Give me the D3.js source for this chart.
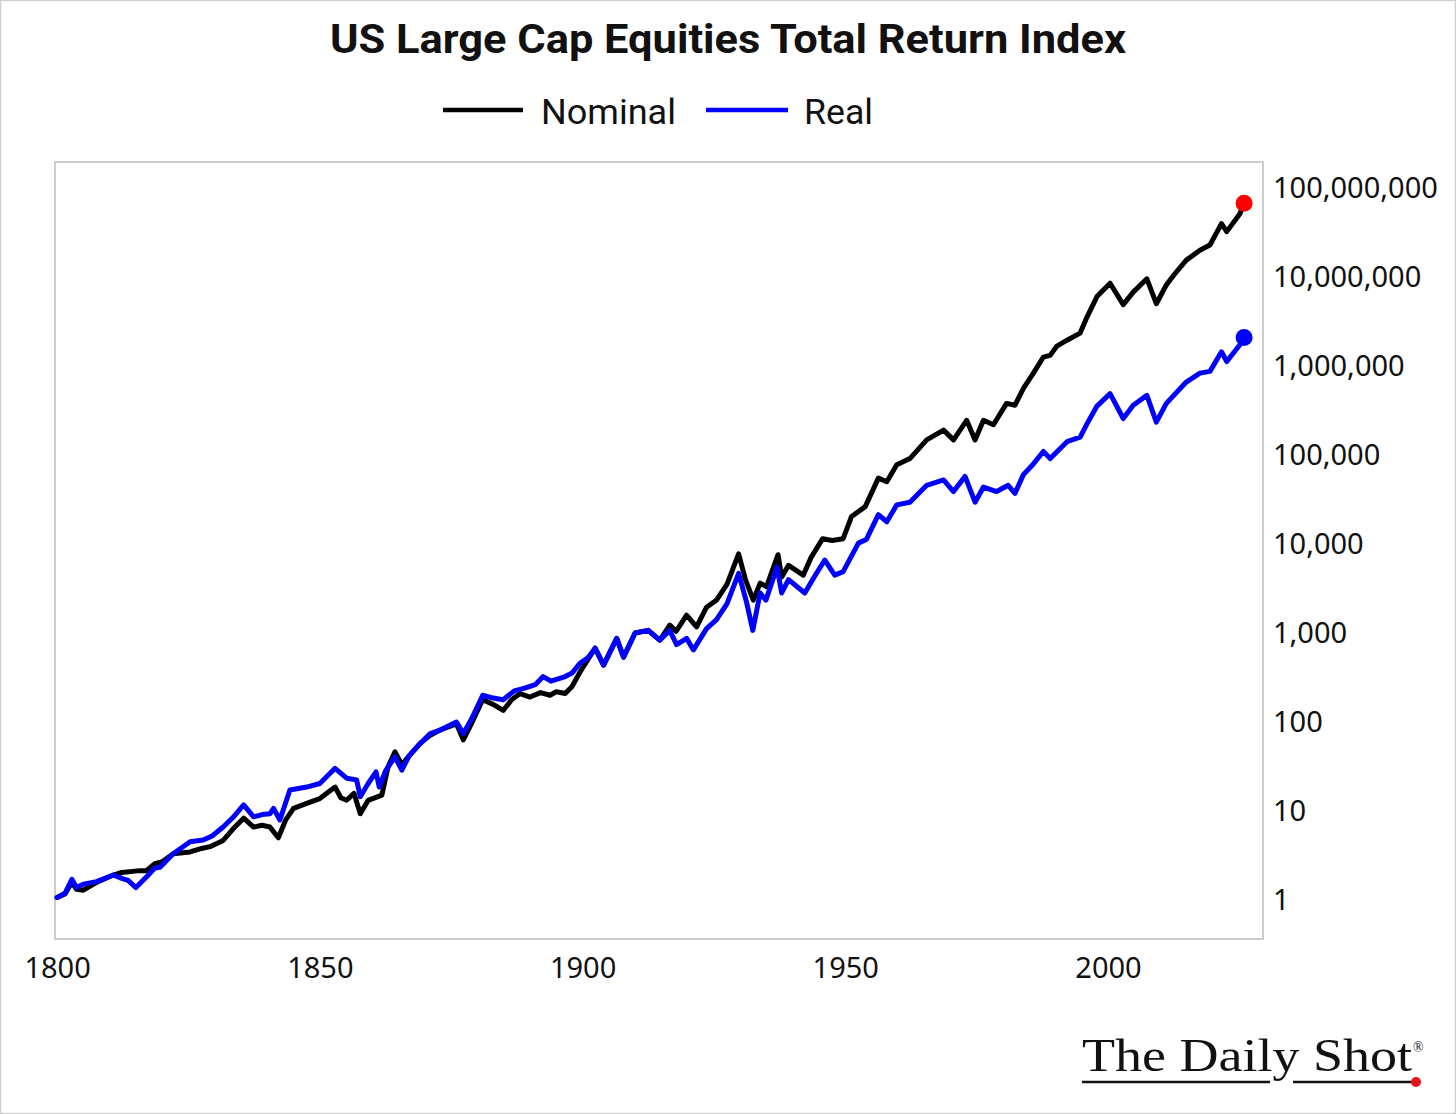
<!DOCTYPE html>
<html>
<head>
<meta charset="utf-8">
<script src="https://cdn.jsdelivr.net/npm/d3@7/dist/d3.min.js"></script>
<style>
  html, body { margin: 0; padding: 0; background: #fff; }
  svg { display: block; }
</style>
</head>
<body>
<svg id="chart" width="1456" height="1114"></svg>
<script>
const title = "US Large Cap Equities Total Return Index";
const seriesNames = ["Nominal", "Real"];
const seriesColors = ["#000000", "#0000ff"];
const endDotColors = ["#ff0000", "#0000ff"];

const xTicks = [1800, 1850, 1900, 1950, 2000];
const yTicks = [1, 10, 100, 1000, 10000, 100000, 1000000, 10000000, 100000000];

const nominalYears = [1800.0, 1801.5, 1802.8, 1803.7, 1805.0, 1807.5, 1810.7, 1812.3, 1815.8, 1817.0,
  1818.6, 1820.0, 1822.1, 1825.3, 1827.5, 1829.1, 1831.6, 1833.5, 1835.5, 1837.4,
  1839.0, 1840.5, 1842.1, 1843.5, 1845.0, 1847.5, 1850.0, 1852.9, 1854.0, 1855.1,
  1856.5, 1857.7, 1859.2, 1861.8, 1863.0, 1864.3, 1865.6, 1867.0, 1869.1, 1871.0,
  1872.9, 1876.0, 1877.3, 1879.0, 1881.0, 1883.0, 1884.9, 1886.5, 1888.1, 1890.0,
  1892.0, 1893.8, 1895.0, 1896.7, 1898.0, 1899.5, 1901.0, 1902.4, 1904.0, 1906.5,
  1907.8, 1910.0, 1912.5, 1914.7, 1916.6, 1917.8, 1919.8, 1921.7, 1923.6, 1925.5,
  1927.5, 1929.7, 1931.0, 1932.5, 1933.8, 1935.0, 1937.2, 1937.9, 1939.2, 1942.0,
  1943.5, 1945.7, 1947.5, 1949.6, 1951.2, 1953.8, 1956.3, 1957.9, 1959.8, 1962.3,
  1965.5, 1968.7, 1970.6, 1973.1, 1974.7, 1976.3, 1978.2, 1980.7, 1982.3, 1983.9,
  1985.8, 1987.7, 1989.0, 1990.2, 1992.2, 1994.7, 1996.0, 1997.9, 2000.4, 2002.9,
  2004.8, 2007.4, 2009.2, 2011.1, 2012.5, 2014.9, 2017.5, 2019.4, 2021.6, 2022.6,
  2025.1, 2025.9];
const nominalValues = [1.07, 1.17, 1.58, 1.32, 1.29, 1.58, 1.91, 2.04, 2.14, 2.14,
  2.57, 2.69, 3.31, 3.47, 3.80, 3.98, 4.68, 6.31, 8.32, 6.61,
  6.92, 6.61, 5.01, 7.94, 10.7, 12.2, 13.8, 18.6, 14.1, 13.2,
  15.8, 9.33, 13.2, 15.1, 31.6, 46.2, 33.1, 41.7, 57.5, 70.8,
  81.3, 95.5, 63.1, 100, 178, 158, 135, 178, 209, 191,
  214, 200, 219, 209, 251, 363, 501, 676, 437, 871,
  537, 1000, 1072, 832, 1230, 1047, 1585, 1175, 1950, 2344,
  3548, 7762, 3981, 2344, 3631, 3311, 7586, 4266, 5754, 4467,
  7079, 11482, 10965, 11482, 20417, 26303, 54954, 50119, 77625, 91201,
  147911, 190546, 147911, 245471, 147911, 245471, 218776, 380189, 363078, 562341,
  831764, 1258925, 1318257, 1659587, 1949845, 2344229, 3548134, 6025596, 8511380, 4897788,
  6760830, 9549926, 5011872, 8128305, 10471285, 15488166, 19952623, 22908677, 39810717, 32359366,
  51286138, 67600000];

const realYears = [1800.0, 1801.5, 1802.8, 1803.7, 1805.0, 1807.5, 1810.7, 1812.3, 1813.5, 1815.0,
  1817.0, 1818.6, 1819.6, 1822.1, 1825.3, 1827.8, 1829.5, 1831.6, 1833.5, 1835.5,
  1837.4, 1839.0, 1840.5, 1841.2, 1842.4, 1844.3, 1847.5, 1850.0, 1852.9, 1855.1,
  1857.0, 1857.7, 1859.2, 1860.7, 1861.3, 1862.5, 1864.3, 1865.6, 1867.0, 1869.1,
  1871.0, 1872.9, 1876.0, 1877.3, 1879.0, 1881.0, 1883.0, 1884.9, 1887.0, 1889.0,
  1891.0, 1892.5, 1894.0, 1896.7, 1898.0, 1899.5, 1901.0, 1902.4, 1904.0, 1906.5,
  1907.8, 1910.0, 1912.5, 1914.7, 1916.6, 1917.9, 1919.8, 1921.1, 1923.6, 1925.5,
  1927.5, 1929.7, 1931.2, 1932.4, 1933.8, 1934.9, 1937.0, 1937.9, 1939.2, 1942.3,
  1944.0, 1946.1, 1948.0, 1949.6, 1952.5, 1954.0, 1956.3, 1957.9, 1959.8, 1962.3,
  1965.5, 1968.7, 1970.6, 1972.8, 1974.7, 1976.3, 1978.8, 1981.0, 1982.3, 1983.9,
  1985.8, 1987.7, 1989.0, 1992.2, 1994.7, 1996.0, 1997.9, 2000.4, 2002.9, 2004.8,
  2007.4, 2009.2, 2011.1, 2014.9, 2017.5, 2019.4, 2021.6, 2022.6, 2025.1, 2025.9];
const realValues = [1.07, 1.19, 1.71, 1.38, 1.51, 1.61, 1.91, 1.75, 1.66, 1.38,
  1.82, 2.29, 2.34, 3.31, 4.52, 4.72, 5.25, 6.61, 8.51, 11.7,
  8.61, 9.12, 9.33, 10.7, 7.94, 17.2, 18.6, 20.4, 30.2, 23.4,
  22.4, 14.5, 20.4, 27.5, 18.6, 28.2, 40.7, 28.8, 41.7, 57.5,
  74.1, 81.3, 100, 74.1, 112, 200, 186, 178, 224, 240,
  263, 324, 288, 324, 355, 457, 525, 676, 437, 871,
  537, 1000, 1072, 832, 1072, 741, 871, 646, 1122, 1413,
  2138, 4677, 2239, 1072, 2818, 2344, 5495, 2818, 3981, 2818,
  4169, 6607, 4467, 4898, 10233, 11220, 21380, 17783, 27542, 29512,
  45709, 52481, 38905, 57544, 29512, 43652, 38905, 45709, 37154, 60256,
  79433, 109648, 91201, 141254, 158489, 223872, 354813, 489779, 257040, 363078,
  467735, 234423, 380189, 660693, 831764, 870964, 1445440, 1122018, 1737801, 2089296];

const series = [
  { name: seriesNames[0], color: seriesColors[0], dot: endDotColors[0],
    data: nominalYears.map((y, i) => ({ year: y, value: nominalValues[i] })) },
  { name: seriesNames[1], color: seriesColors[1], dot: endDotColors[1],
    data: realYears.map((y, i) => ({ year: y, value: realValues[i] })) }
];

const svg = d3.select("#chart");
const W = 1456, H = 1114;
const plot = { left: 55, top: 162, right: 1263, bottom: 939 };

// outer border
svg.append("rect").attr("x", 0.5).attr("y", 0.5).attr("width", W - 1).attr("height", H - 1)
  .attr("fill", "#fff").attr("stroke", "#cfcfcf").attr("stroke-width", 1.5);

const x = d3.scaleLinear().domain([1799.6, 2029.5]).range([plot.left, plot.right]);
const y = d3.scaleLog().domain([0.365, 1.96e8]).range([plot.bottom, plot.top]);

// title
svg.append("text")
  .attr("x", 728).attr("y", 53)
  .attr("text-anchor", "middle")
  .attr("font-family", "Roboto, 'Noto Sans', sans-serif")
  .attr("font-weight", 700)
  .attr("font-size", 41)
  .attr("textLength", 796)
  .attr("lengthAdjust", "spacingAndGlyphs")
  .attr("fill", "#111")
  .text(title);

// legend
const legendItems = [
  { x1: 443, x2: 523, tx: 541, tw: 135 },
  { x1: 706, x2: 788, tx: 804, tw: 69 }
];
series.forEach((s, i) => {
  const L = legendItems[i];
  svg.append("line").attr("x1", L.x1).attr("x2", L.x2).attr("y1", 110).attr("y2", 110)
    .attr("stroke", s.color).attr("stroke-width", 4.5);
  svg.append("text").attr("x", L.tx).attr("y", 124)
    .attr("font-family", "Roboto, 'Noto Sans', sans-serif")
    .attr("font-size", 35)
    .attr("textLength", L.tw)
    .attr("lengthAdjust", "spacingAndGlyphs")
    .attr("fill", "#111")
    .text(s.name);
});

// plot frame
svg.append("rect")
  .attr("x", plot.left).attr("y", plot.top)
  .attr("width", plot.right - plot.left).attr("height", plot.bottom - plot.top)
  .attr("fill", "none").attr("stroke", "#cccccc").attr("stroke-width", 2);

// lines
const line = d3.line().x(d => x(d.year)).y(d => y(d.value));
series.forEach(s => {
  svg.append("path").datum(s.data)
    .attr("d", line)
    .attr("fill", "none")
    .attr("stroke", s.color)
    .attr("stroke-width", 5)
    .attr("stroke-linejoin", "round")
    .attr("stroke-linecap", "round");
});
series.forEach(s => {
  const last = s.data[s.data.length - 1];
  svg.append("circle").attr("cx", x(last.year)).attr("cy", y(last.value)).attr("r", 8.5)
    .attr("fill", s.dot);
});

// axes
const fmt = d3.format(",");
const yAxis = svg.append("g").attr("transform", `translate(${plot.right},0)`)
  .call(d3.axisRight(y).tickValues(yTicks).tickFormat(fmt).tickSize(0).tickPadding(10));
yAxis.select(".domain").remove();
yAxis.selectAll("text")
  .attr("font-family", "'Noto Sans', 'Open Sans', sans-serif")
  .attr("font-size", 29)
  .attr("fill", "#111");

const xAxis = svg.append("g").attr("transform", `translate(0,${plot.bottom})`)
  .call(d3.axisBottom(x).tickValues(xTicks).tickFormat(d3.format("d")).tickSize(0).tickPadding(18));
xAxis.select(".domain").remove();
xAxis.selectAll("text")
  .attr("font-family", "'Noto Sans', 'Open Sans', sans-serif")
  .attr("font-size", 29)
  .attr("fill", "#111");

// logo
const logo = svg.append("g");
logo.append("text")
  .attr("x", 1082).attr("y", 1071)
  .attr("font-family", "'Liberation Serif', 'DejaVu Serif', serif")
  .attr("font-size", 47)
  .attr("textLength", 330)
  .attr("lengthAdjust", "spacingAndGlyphs")
  .attr("fill", "#111")
  .text("The Daily Shot");
logo.append("text")
  .attr("x", 1413).attr("y", 1052)
  .attr("font-family", "'Liberation Serif', 'DejaVu Serif', serif")
  .attr("font-size", 14)
  .attr("fill", "#111")
  .text("®");
logo.append("line").attr("x1", 1082).attr("x2", 1270).attr("y1", 1082).attr("y2", 1082)
  .attr("stroke", "#111").attr("stroke-width", 2.5);
logo.append("line").attr("x1", 1293).attr("x2", 1414).attr("y1", 1082).attr("y2", 1082)
  .attr("stroke", "#111").attr("stroke-width", 2.5);
logo.append("circle").attr("cx", 1416).attr("cy", 1082).attr("r", 5).attr("fill", "#e8141c");
</script>
</body>
</html>
